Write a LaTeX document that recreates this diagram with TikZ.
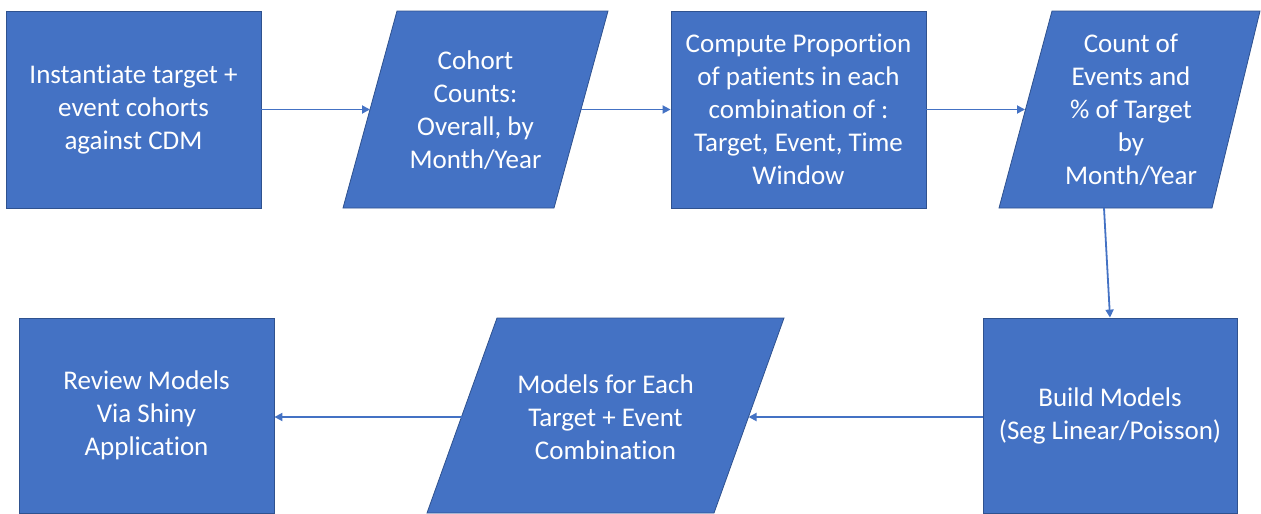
\documentclass[tikz,border=0pt]{standalone}
\usepackage{fontspec}
\setmainfont{Carlito}[Ligatures=NoCommon]
\usetikzlibrary{arrows.meta}
\definecolor{boxfill}{HTML}{4472C4}
\definecolor{boxline}{HTML}{2F528F}
\tikzset{
  procbox/.style={draw=boxline, fill=boxfill, line width=0.8pt, inner sep=0pt, text=white, align=center, font=\fontsize{27}{33}\selectfont},
  iobox/.style={draw=boxline, fill=boxfill, line width=0.8pt},
  iotext/.style={text=white, align=center, inner sep=0pt, font=\fontsize{27}{33}\selectfont},
  flow/.style={draw=boxfill, line width=1.8pt, -{Triangle[length=8pt,width=8pt]}}
}
\begin{document}
\begin{tikzpicture}[x=1pt,y=-1pt]
\useasboundingbox (0,0) rectangle (1261,514);
% box 1
\node[procbox, minimum width=255pt, minimum height=197pt] (b1) at (133.5,109.5) {Instantiate target +\\event cohorts\\against CDM};
% parallelogram 2
\path[iobox] (397,11) -- (608,11) -- (554,208) -- (343,208) -- cycle;
\node[iotext] (p2) at (475.5,110) {Cohort\\Counts:\\Overall, by\\Month/Year};
\coordinate (p2in) at (370,109.5);
\coordinate (p2out) at (581,109.5);
% box 3
\node[procbox, minimum width=255pt, minimum height=197pt] (b3) at (798.5,109.5) {Compute Proportion\\of patients in each\\combination of :\\Target, Event, Time\\Window};
% parallelogram 4
\path[iobox] (1052,11) -- (1260,11) -- (1212,208) -- (999,208) -- cycle;
\node[iotext] (p4) at (1131,110) {Count of\\Events and\\\% of Target\\by\\Month/Year};
\coordinate (p4in) at (1025,109.5);
\coordinate (p4out) at (1104,208);
% box 5
\node[procbox, minimum width=254pt, minimum height=195pt] (b5) at (1110,415.5) {Build Models\\(Seg Linear/Poisson)};
% parallelogram 6
\path[iobox] (497,318) -- (784,318) -- (714,513) -- (427,513) -- cycle;
\node[iotext] (p6) at (605.5,417) {Models for Each\\Target + Event\\Combination};
\coordinate (p6in) at (748.5,417);
\coordinate (p6out) at (461.5,417);
% box 7
\node[procbox, minimum width=255pt, minimum height=195pt] (b7) at (146.5,415.5) {Review Models\\Via Shiny\\Application};
% connectors
\draw[flow] (b1.east |- p2in) -- (p2in);
\draw[flow] (p2out) -- (b3.west |- p2out);
\draw[flow] (b3.east |- p4in) -- (p4in);
\draw[flow] (p4out) -- (b5.north);
\draw[flow] (b5.west |- p6in) -- (p6in);
\draw[flow] (p6out) -- (b7.east |- p6out);
\end{tikzpicture}
\end{document}
